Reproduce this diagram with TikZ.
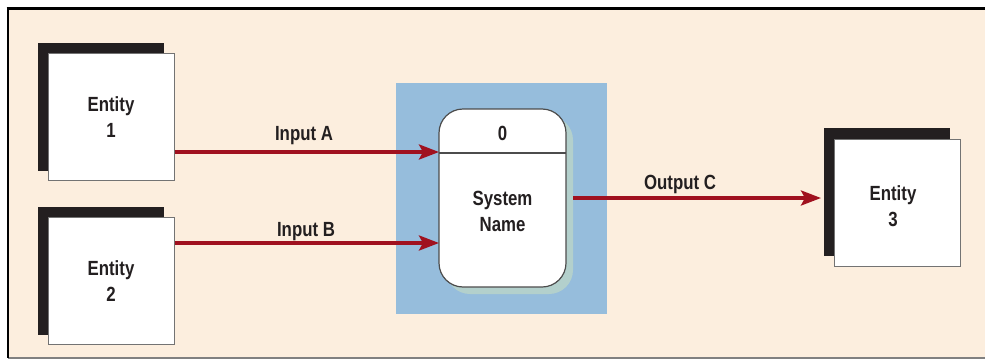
\documentclass[tikz,border=0pt]{standalone}
\usepackage{fontspec}
\setmainfont{Liberation Sans}[FakeStretch=0.82]
\usetikzlibrary{arrows.meta}
\definecolor{cream}{HTML}{FCEEDE}
\definecolor{bluebg}{HTML}{96BDDC}
\definecolor{flowred}{HTML}{A0111F}
\definecolor{procshadow}{HTML}{B3D0CC}
\definecolor{txt}{HTML}{231F20}
\tikzset{
  entbox/.style={draw=black!55, line width=1pt, fill=white, minimum width=126pt, minimum height=127pt, inner sep=0pt, align=center, font=\fontsize{20.5}{26}\selectfont\bfseries, text=txt},
  entshadow/.style={fill=txt, minimum width=126pt, minimum height=128pt, inner sep=0pt},
  flow/.style={draw=flowred, line width=3.5pt, -{Stealth[length=20pt, width=15pt, inset=4pt]}},
  flowlabel/.style={font=\fontsize{20.5}{26}\selectfont\bfseries, text=txt},
}
\begin{document}
\begin{tikzpicture}[x=1pt, y=-1pt]
\useasboundingbox (0,0) rectangle (985,359);
\fill[cream] (8,8) rectangle (985,358);
\draw[black!50, line width=1.2pt] (8,358) -- (985,358);
\draw[black, line width=3pt] (6.5,8.5) -- (985,8.5);
\draw[black, line width=2pt] (8,8) -- (8,358);
% entities
\node[entshadow] at (101,107) {};
\node[entbox] (e1) at (111,117) {Entity\\1};
\node[entshadow] at (101,270.5) {};
\node[entbox] (e2) at (111,281) {Entity\\2};
\node[entshadow] at (886.5,192) {};
\node[entbox] (e3) at (897.5,202.5) {};
\node[font=\fontsize{20.5}{26}\selectfont\bfseries, text=txt, align=center] (e3t) at (893,206) {Entity\\3};
% process
\fill[bluebg] (396,83) rectangle (607,314);
\fill[procshadow, rounded corners=24pt] (446,116) rectangle (573,294);
\draw[black!70, line width=1.2pt, fill=white, rounded corners=24pt] (439,109) rectangle (566,287);
\draw[black!70, line width=1.2pt] (439,153) -- (566,153);
\node[flowlabel] (pid) at (502.5,133) {0};
\node[flowlabel, align=center] (pname) at (502.5,211) {System\\Name};
\coordinate (pA) at (439,152);
\coordinate (pB) at (439,243);
\coordinate (pC) at (573,198);
\coordinate (tC) at (821,198);
% flows
\draw[flow] (e1.east |- pA) -- (pA);
\draw[flow] (e2.east |- pB) -- (pB);
\draw[flow] (pC) -- (tC);
\node[flowlabel] (la) at (304,136) {Input A};
\node[flowlabel] (lb) at (306,232) {Input B};
\node[flowlabel] (lc) at (680,184) {Output C};
\end{tikzpicture}
\end{document}
